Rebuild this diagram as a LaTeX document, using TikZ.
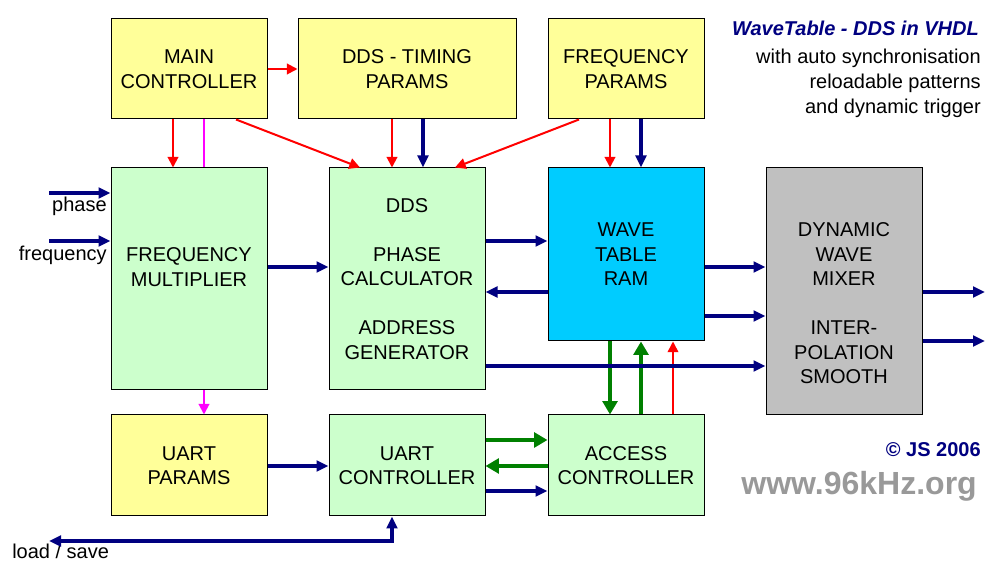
\documentclass[tikz,border=0pt]{standalone}
\usepackage{fontspec}
\setmainfont{Liberation Sans}
\usetikzlibrary{arrows.meta}
\definecolor{amarillo}{HTML}{FFFF99}
\definecolor{verdeclaro}{HTML}{CCFFCC}
\definecolor{celeste}{HTML}{00CCFF}
\definecolor{gris}{HTML}{C0C0C0}
\definecolor{azul}{HTML}{000080}
\definecolor{verde}{HTML}{008000}
\definecolor{rojo}{HTML}{FF0000}
\definecolor{rosa}{HTML}{FF00FF}
\definecolor{grisweb}{HTML}{999999}
\begin{document}
\begin{tikzpicture}[x=0.75pt, y=-0.75pt,
    texto/.style={align=center, inner sep=0pt, font=\fontsize{15}{18.4}\selectfont},
    bloque/.style={texto, draw, line width=0.75pt, minimum width=117pt, minimum height=75pt},
    etiqueta/.style={inner sep=0pt, font=\fontsize{15}{18}\selectfont},
    flechaazul/.style={draw=azul, line width=2.6pt, -{Triangle[length=9pt,width=8pt]}},
    flecharoja/.style={draw=rojo, line width=1.5pt, -{Triangle[length=8pt,width=8pt]}},
    flechaverde/.style={draw=verde, line width=3.2pt, -{Triangle[length=10pt,width=11pt]}}]
    \useasboundingbox (0,0) rectangle (1000,580);
    % Bloques
    \node[bloque, fill=amarillo] (main) at (189,69) {MAIN\\CONTROLLER};
    \node[bloque, fill=amarillo, minimum width=163.5pt] (timing) at (407,69) {DDS - TIMING\\PARAMS};
    \node[bloque, fill=amarillo] (freqp) at (626,69) {FREQUENCY\\PARAMS};
    \node[bloque, fill=verdeclaro, minimum height=166.5pt,
        label={[texto, yshift=9pt]center:FREQUENCY\\MULTIPLIER}] (mult) at (189,279) {};
    \node[bloque, fill=verdeclaro, minimum height=166.5pt] (dds) at (407,279)
        {DDS\\[18.4pt]PHASE\\CALCULATOR\\[18.4pt]ADDRESS\\GENERATOR};
    \node[bloque, fill=celeste, minimum height=129.75pt] (ram) at (626,254.5) {WAVE\\TABLE\\RAM};
    \node[bloque, fill=gris, minimum height=185.25pt,
        label={[texto, yshift=-9pt]center:DYNAMIC\\WAVE\\MIXER\\[18.4pt]INTER-\\POLATION\\SMOOTH}] (mixer) at (844,291.5) {};
    \node[bloque, fill=amarillo, minimum height=75.75pt] (uartp) at (189,465.5) {UART\\PARAMS};
    \node[bloque, fill=verdeclaro, minimum height=75.75pt] (uartc) at (407,465.5) {UART\\CONTROLLER};
    \node[bloque, fill=verdeclaro, minimum height=75.75pt] (access) at (626,465.5) {ACCESS\\CONTROLLER};
    % Textos
    \node[etiqueta, anchor=base east, font=\fontsize{15}{18}\bfseries\itshape\selectfont, text=azul] (titulo) at (979,36) {WaveTable - DDS in VHDL};
    \node[etiqueta, anchor=north east, align=right, font=\fontsize{15}{18.75}\selectfont] (subtitulo) at (981,48.4)
        {with auto synchronisation\\reloadable patterns\\and dynamic trigger};
    \node[etiqueta, anchor=base east, font=\fontsize{15}{18}\bfseries\selectfont, text=azul] (copy) at (981,457) {© JS 2006};
    \node[etiqueta, anchor=base east, font=\fontsize{24}{28}\bfseries\selectfont, text=grisweb] (web) at (977,495) {www.96kHz.org};
    \node[etiqueta, anchor=base east] (lphase) at (107,212) {phase};
    \node[etiqueta, anchor=base east] (lfreq) at (107,261) {frequency};
    \node[etiqueta, anchor=base west] (lsave) at (12,559) {load / save};
    % Conexiones de control
    \draw[flecharoja] (main) -- (timing);
    \draw[flecharoja] (main.south -| 173,0) -- (mult.north -| 173,0);
    \draw[rosa, line width=1.5pt] (main.south -| 204,0) -- (mult.north -| 204,0);
    \draw[rosa, line width=1.5pt, -{Triangle[length=8pt,width=8pt]}] (mult.south -| 204,0) -- (uartp.north -| 204,0);
    \draw[flecharoja] (main.south -| 236,0) -- (dds.north -| 360,0);
    \draw[flecharoja] (timing.south -| 392,0) -- (dds.north -| 392,0);
    \draw[flechaazul] (timing.south -| 423,0) -- (dds.north -| 423,0);
    \draw[flecharoja] (freqp.south -| 579,0) -- (dds.north -| 455,0);
    \draw[flecharoja] (freqp.south -| 610,0) -- (ram.north -| 610,0);
    \draw[flechaazul] (freqp.south -| 641,0) -- (ram.north -| 641,0);
    % Memoria
    \draw[flechaverde] (ram.south -| 610,0) -- (access.north -| 610,0);
    \draw[flechaverde] (access.north -| 641,0) -- (ram.south -| 641,0);
    \draw[flecharoja, line width=1.2pt] (access.north -| 673,0) -- (ram.south -| 673,0);
    \draw[flechaverde] (uartc.east |- 0,440) -- (access.west |- 0,440);
    \draw[flechaverde] (access.west |- 0,466) -- (uartc.east |- 0,466);
    % Datos
    \coordinate (phase) at (49,193);
    \coordinate (freq) at (49,241);
    \coordinate (out1) at (985,292);
    \coordinate (out2) at (985,341);
    \coordinate (loadsave) at (49,541);
    \draw[flechaazul] (phase) -- (phase -| mult.west);
    \draw[flechaazul] (freq) -- (freq -| mult.west);
    \draw[flechaazul] (mult.east |- 0,267) -- (dds.west |- 0,267);
    \draw[flechaazul] (dds.east |- 0,241) -- (ram.west |- 0,241);
    \draw[flechaazul] (ram.west |- 0,292) -- (dds.east |- 0,292);
    \draw[flechaazul] (dds.east |- 0,366) -- (mixer.west |- 0,366);
    \draw[flechaazul] (ram.east |- 0,267) -- (mixer.west |- 0,267);
    \draw[flechaazul] (ram.east |- 0,316) -- (mixer.west |- 0,316);
    \draw[flechaazul] (mixer.east |- out1) -- (out1);
    \draw[flechaazul] (mixer.east |- out2) -- (out2);
    \draw[flechaazul] (uartp.east |- 0,466) -- (uartc.west |- 0,466);
    \draw[flechaazul] (uartc.east |- 0,491) -- (access.west |- 0,491);
    \draw[flechaazul, {Triangle[length=9pt,width=8pt]}-{Triangle[length=9pt,width=8pt]}] (loadsave) -| (uartc.south -| 392,0);
\end{tikzpicture}
\end{document}
